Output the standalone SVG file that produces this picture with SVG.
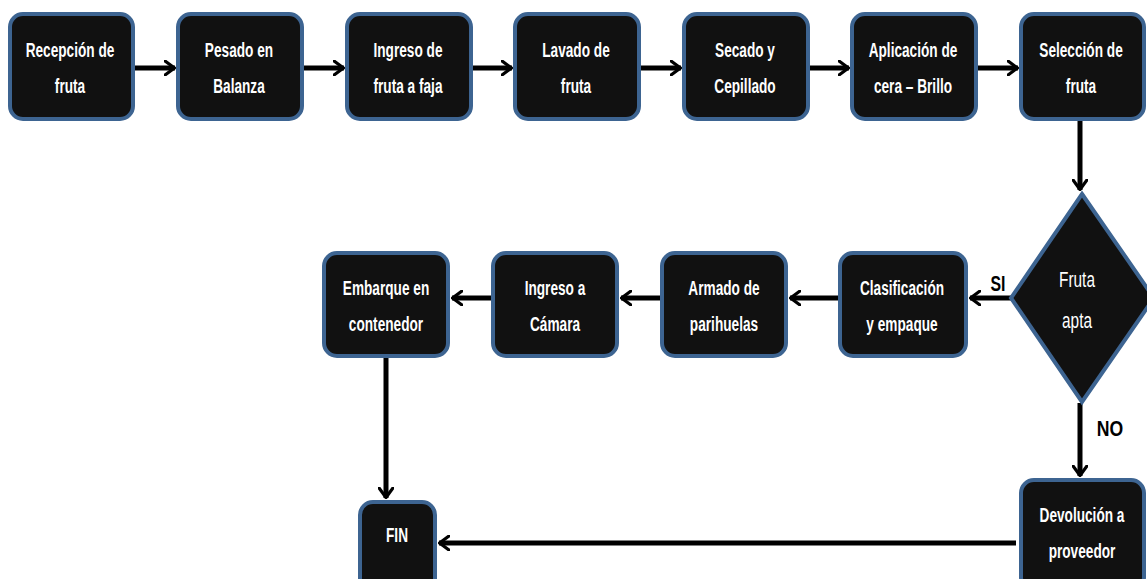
<svg xmlns="http://www.w3.org/2000/svg" width="1147" height="579" viewBox="0 0 1147 579">
<style>
.box{fill:#111;stroke:#3d6491;stroke-width:4}
.t{font-family:"Liberation Sans",Arial,sans-serif;font-weight:bold;font-size:21px;fill:#fff;text-anchor:middle}
.d{font-family:"Liberation Sans",Arial,sans-serif;font-size:22px;fill:#fff;text-anchor:middle}
.lbl{font-family:"Liberation Sans",Arial,sans-serif;font-weight:bold;font-size:22px;fill:#000;text-anchor:middle}
.c{stroke:#000;stroke-width:5;fill:none}
</style>
<defs>
<marker id="ah" viewBox="0 0 12 16" refX="11" refY="8" markerWidth="12" markerHeight="16" markerUnits="userSpaceOnUse" orient="auto">
<path d="M1,1 L10.5,8 L1,15" fill="none" stroke="#000" stroke-width="3.2" stroke-linecap="round" stroke-linejoin="round"/>
</marker>
</defs>
<rect width="1147" height="579" fill="#fff"/>
<g id="connectors">
<line class="c" x1="135" y1="68" x2="175" y2="68" marker-end="url(#ah)"/>
<line class="c" x1="304" y1="68" x2="344" y2="68" marker-end="url(#ah)"/>
<line class="c" x1="473" y1="68" x2="512" y2="68" marker-end="url(#ah)"/>
<line class="c" x1="641" y1="68" x2="681" y2="68" marker-end="url(#ah)"/>
<line class="c" x1="810" y1="68" x2="849" y2="68" marker-end="url(#ah)"/>
<line class="c" x1="978" y1="68" x2="1018" y2="68" marker-end="url(#ah)"/>
<line class="c" x1="1080" y1="121" x2="1080" y2="190" marker-end="url(#ah)"/>
<line class="c" x1="1012" y1="298" x2="970" y2="298" marker-end="url(#ah)"/>
<line class="c" x1="838" y1="298" x2="790" y2="298" marker-end="url(#ah)"/>
<line class="c" x1="660" y1="298" x2="621" y2="298" marker-end="url(#ah)"/>
<line class="c" x1="491" y1="298" x2="452" y2="298" marker-end="url(#ah)"/>
<line class="c" x1="386" y1="358" x2="386" y2="498" marker-end="url(#ah)"/>
<line class="c" x1="1080" y1="403" x2="1080" y2="476" marker-end="url(#ah)"/>
<line class="c" x1="1016" y1="543" x2="439" y2="543" marker-end="url(#ah)"/>
<text class="lbl" transform="translate(998,291) scale(0.72,1)">SI</text>
<text class="lbl" transform="translate(1110,436) scale(0.8,1)">NO</text>
</g>
<g id="n1"><rect class="box" x="10" y="14" width="123" height="105" rx="13"/><text class="t" transform="translate(70,57) scale(0.65,1)">Recepción de</text><text class="t" transform="translate(70,93) scale(0.65,1)">fruta</text></g>
<g id="n2"><rect class="box" x="178" y="14" width="124" height="105" rx="13"/><text class="t" transform="translate(239,57) scale(0.65,1)">Pesado en</text><text class="t" transform="translate(239,93) scale(0.65,1)">Balanza</text></g>
<g id="n3"><rect class="box" x="347" y="14" width="124" height="105" rx="13"/><text class="t" transform="translate(408,57) scale(0.65,1)">Ingreso de</text><text class="t" transform="translate(408,93) scale(0.65,1)">fruta a faja</text></g>
<g id="n4"><rect class="box" x="515" y="14" width="124" height="105" rx="13"/><text class="t" transform="translate(576,57) scale(0.65,1)">Lavado de</text><text class="t" transform="translate(576,93) scale(0.65,1)">fruta</text></g>
<g id="n5"><rect class="box" x="684" y="14" width="124" height="105" rx="13"/><text class="t" transform="translate(745,57) scale(0.65,1)">Secado y</text><text class="t" transform="translate(745,93) scale(0.65,1)">Cepillado</text></g>
<g id="n6"><rect class="box" x="852" y="14" width="124" height="105" rx="13"/><text class="t" transform="translate(913,57) scale(0.65,1)">Aplicación de</text><text class="t" transform="translate(913,93) scale(0.65,1)">cera – Brillo</text></g>
<g id="n7"><rect class="box" x="1021" y="14" width="123" height="105" rx="13"/><text class="t" transform="translate(1081,57) scale(0.65,1)">Selección de</text><text class="t" transform="translate(1081,93) scale(0.65,1)">fruta</text></g>
<g id="n8"><path class="box" d="M1082,194 L1154,298 L1082,402 L1011,298 Z"/><text class="d" transform="translate(1077,287) scale(0.7,1)">Fruta</text><text class="d" transform="translate(1077,328) scale(0.7,1)">apta</text></g>
<g id="n9"><rect class="box" x="840" y="253" width="126" height="103" rx="13"/><text class="t" transform="translate(902,295) scale(0.65,1)">Clasificación</text><text class="t" transform="translate(902,331) scale(0.65,1)">y empaque</text></g>
<g id="n10"><rect class="box" x="662" y="253" width="124" height="103" rx="13"/><text class="t" transform="translate(724,295) scale(0.65,1)">Armado de</text><text class="t" transform="translate(724,331) scale(0.65,1)">parihuelas</text></g>
<g id="n11"><rect class="box" x="493" y="253" width="124" height="103" rx="13"/><text class="t" transform="translate(555,295) scale(0.65,1)">Ingreso a</text><text class="t" transform="translate(555,331) scale(0.65,1)">Cámara</text></g>
<g id="n12"><rect class="box" x="324" y="253" width="124" height="103" rx="13"/><text class="t" transform="translate(386,295) scale(0.65,1)">Embarque en</text><text class="t" transform="translate(386,331) scale(0.65,1)">contenedor</text></g>
<g id="n13"><rect class="box" x="360" y="502" width="75" height="90" rx="13"/><text class="t" transform="translate(397,542) scale(0.65,1)">FIN</text></g>
<g id="n14"><rect class="box" x="1021" y="480" width="123" height="110" rx="13"/><text class="t" transform="translate(1082,522) scale(0.65,1)">Devolución a</text><text class="t" transform="translate(1082,558) scale(0.65,1)">proveedor</text></g>
</svg>
